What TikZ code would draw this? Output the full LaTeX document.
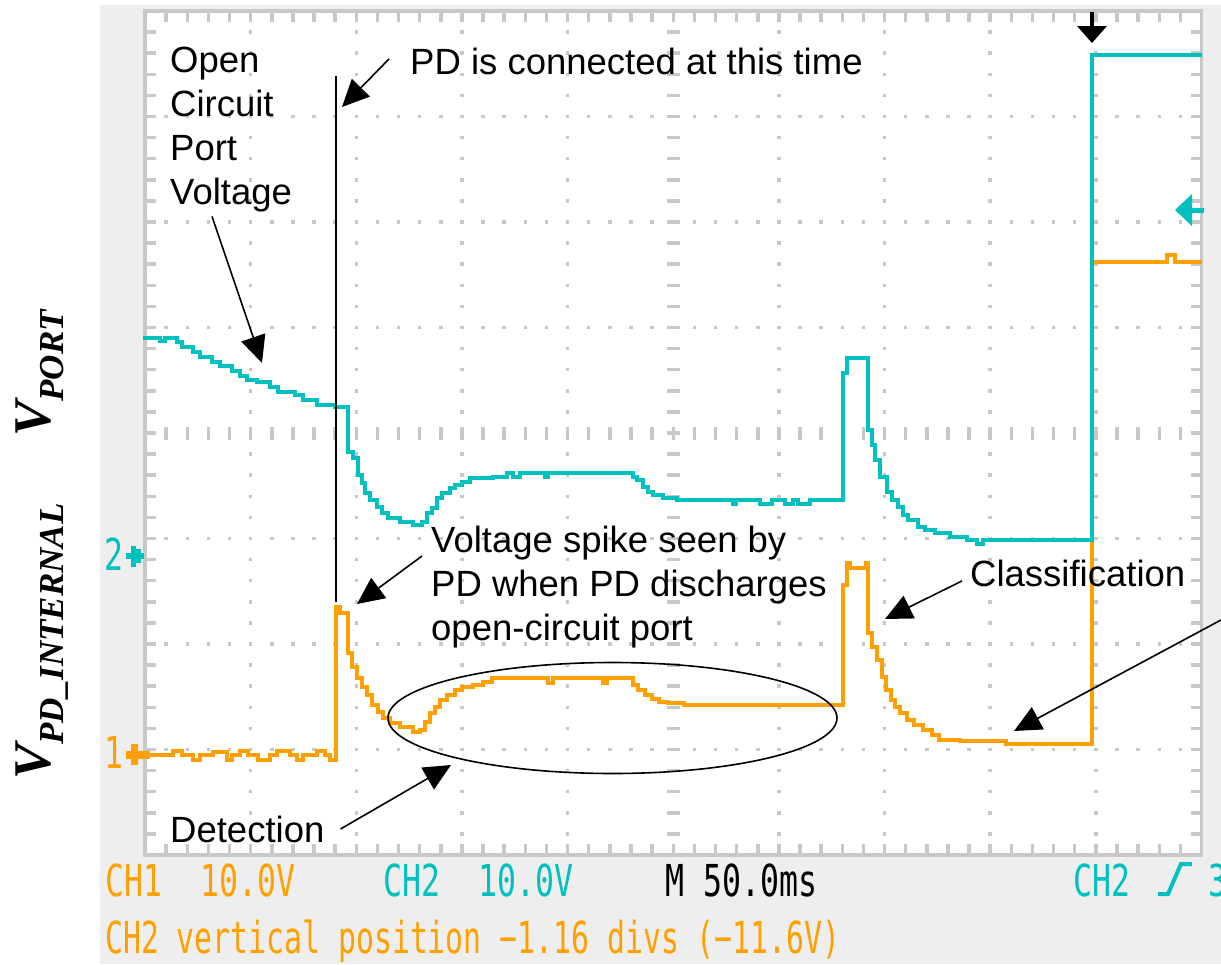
\documentclass[tikz,border=0pt]{standalone}
\usepackage{fontspec}
\setmainfont{Liberation Sans}
\newfontfamily\labelfont{Liberation Serif}
\newfontfamily\scopefont[FakeStretch=0.717]{DejaVu Sans Mono}
\newfontfamily\scopefontn[FakeStretch=0.677]{DejaVu Sans Mono}
\usetikzlibrary{arrows.meta,positioning}
\definecolor{chOne}{HTML}{FFA000}
\definecolor{chTwo}{HTML}{00C0C0}
\definecolor{gridGray}{HTML}{C8C8C8}
\definecolor{scopeBg}{HTML}{EEEEEE}

\begin{document}
\begin{tikzpicture}[
    x=1pt, y=-1pt,
    trace/.style={%
      line width=4.5pt,
    },
    gridv/.style={%
      draw=gridGray,
      line width=3.5pt,
      dash pattern=on 3.5pt off 17.6pt,
      dash phase=1.75pt,
    },
    gridh/.style={%
      draw=gridGray,
      line width=3.5pt,
      dash pattern=on 3.5pt off 17.63pt,
      dash phase=1.75pt,
    },
    anno/.style={%
      inner sep=0pt,
      align=left,
      font=\fontsize{36.5}{44}\selectfont,
    },
    ann/.style={%
      draw,
      line width=1.6pt,
      -{Triangle[length=27pt,width=25pt]},
    },
    vlabel/.style={%
      inner sep=0pt,
      rotate=90,
      anchor=base west,
      font=\labelfont\bfseries\itshape\fontsize{53}{60}\selectfont,
    },
    readout/.style={%
      inner sep=0pt,
      anchor=base west,
      font=\scopefont\fontsize{44}{48}\selectfont,
    },
  ]

    \useasboundingbox (0,0) rectangle (1221,964);
    \fill[white] (0,0) rectangle (1221,964);
    \fill[scopeBg] (100,5) rectangle (1221,964);
    \fill[white] (145,11) rectangle (1201.5,855);

    \foreach \k in {1,2,3,4,6,7,8,9}
      \draw[gridv] (145+\k*105.65,11) -- (145+\k*105.65,855);
    \foreach \j in {1,2,3,5,6,7}
      \draw[gridh] (145,11+\j*105.5) -- (1201.5,11+\j*105.5);
    \draw[gridv, line width=13pt] (673.25,11) -- (673.25,855);
    \draw[gridh, line width=13pt] (145,433) -- (1201.5,433);
    \draw[gridh, line width=9.5pt] (145,17) -- (1201.5,17);
    \draw[gridh, line width=9.5pt] (145,849) -- (1201.5,849);
    \draw[gridv, line width=9.5pt] (151,11) -- (151,855);
    \draw[gridv, line width=9.5pt] (1195.5,11) -- (1195.5,855);
    \draw[gridGray, line width=3.5pt] (145,11) rectangle (1201.5,855);

    \draw[trace, chOne] (143,755) |- (173,755) |- (182,751) |- (193,755) |- (200,760) |- (213,755)
      |- (227,752) |- (232,760) |- (240,755) |- (248,751) |- (258,755) |- (270,760) |- (277,755)
      |- (290,751) |- (297,755) |- (303,760) |- (317,755) |- (325,751) |- (330,755) |- (336,760)
      |- (340,607) |- (348,613) |- (352,653) |- (357,667) |- (362,678) |- (367,687) |- (372,695)
      |- (378,705) |- (383,712) |- (390,718) |- (400,723) |- (413,727) |- (420,732) |- (425,730)
      |- (430,722) |- (435,713) |- (440,707) |- (447,700) |- (455,695) |- (462,690) |- (473,687)
      |- (483,685) |- (492,682) |- (500,678) |- (548,678) |- (553,683) |- (603,678) |- (607,683)
      |- (633,678) |- (638,685) |- (645,690) |- (652,695) |- (659,699) |- (668,702) |- (684,703)
      |- (843,705) |- (847,585) |- (850,563) |- (866,568) |- (868,563) |- (872,633) |- (877,647)
      |- (882,660) |- (886,677) |- (891,690) |- (895,700) |- (900,707) |- (907,713) |- (914,720)
      |- (923,725) |- (932,730) |- (939,735) |- (960,740) |- (1006,741) |- (1092,744)
      |- (1167,262) |- (1175,255) |- (1202,262);

    \draw[trace, chTwo] (143,338) |- (160,338) |- (165,341) |- (177,338) |- (182,342) |- (193,347)
      |- (200,352) |- (212,357) |- (220,362) |- (232,366) |- (240,371) |- (247,376) |- (257,380)
      |- (270,382) |- (278,387) |- (295,392) |- (303,395) |- (317,400) |- (335,405) |- (348,407)
      |- (353,452) |- (358,458) |- (362,475) |- (365,483) |- (370,493) |- (377,500) |- (382,507)
      |- (388,513) |- (400,518) |- (413,522) |- (422,525) |- (427,522) |- (432,513) |- (437,508)
      |- (442,498) |- (450,493) |- (455,488) |- (462,485) |- (470,482) |- (493,478) |- (507,477)
      |- (513,473) |- (520,477) |- (545,473) |- (548,477) |- (633,473) |- (637,477) |- (643,480)
      |- (648,487) |- (653,492) |- (663,495) |- (677,498) |- (733,500) |- (736,504) |- (760,500)
      |- (772,504) |- (785,500) |- (793,504) |- (798,500) |- (810,504) |- (843,500)
      |- (847,373) |- (868,358) |- (872,430) |- (875,445) |- (880,460) |- (887,477) |- (892,492)
      |- (898,500) |- (903,507) |- (908,515) |- (918,520) |- (925,527) |- (935,530) |- (950,533)
      |- (967,537) |- (977,540) |- (983,544) |- (1092,540) |- (1202,55);

    \fill[chTwo] (126,553) rectangle (144,559);
    \fill[chTwo] (131,546) rectangle (136,567);
    \fill[chTwo] (136,549) rectangle (141,563);
    \fill[chOne] (126,751) rectangle (150,759);
    \fill[chOne] (131,744) rectangle (138,765);
    \fill[chTwo] (1175,210) -- (1192,194) -- (1192,226) -- cycle;
    \fill[chTwo] (1185,207.5) rectangle (1204,212.5);
    \fill (1090,12) rectangle (1094,30);
    \fill (1077,26) -- (1107,26) -- (1092,43) -- cycle;

    \node [readout, text=chTwo, font=\scopefont\fontsize{44}{48}\selectfont] (LvlTwo) at (104,570) {2};
    \node [readout, text=chOne, font=\scopefont\fontsize{44}{48}\selectfont] (LvlOne) at (104,768) {1};
    \node [readout, text=chOne] (ChOne) at (105,896) {CH1~~10.0V};
    \node [readout, text=chTwo] (ChTwo) at (383,896) {CH2~~10.0V};
    \node [readout] (Base) at (665,896) {M~50.0ms};
    \node [readout, text=chTwo] (Trig) at (1073,896) {CH2};
    \draw[chTwo, line width=4pt] (1158,894) -- (1168,894) -- (1181,864) -- (1192,864);
    \node [readout, text=chTwo] (TrigLvl) at (1208,896) {3};
    \node [readout, text=chOne, font=\scopefontn\fontsize{44}{48}\selectfont] (VPos) at (105,953)
      {CH2 vertical position −1.16 divs (−11.6V)};

    \node [vlabel] (Vport) at (50,437) {V\raisebox{-13pt}{\fontsize{35}{35}\selectfont PORT}};
    \node [vlabel] (Vpd) at (50,780) {V\raisebox{-13pt}{\fontsize{35}{35}\selectfont PD\_INTERNAL}};

    \node [anno, anchor=north west] (Open) at (170,47) {Open\\Circuit\\Port\\Voltage};
    \node [anno, anchor=base west] (PD) at (410,74) {PD is connected at this time};
    \node [anno, anchor=north west] (Spike) at (431,526) {Voltage spike seen by\\PD when PD discharges\\open-circuit port};
    \node [anno, anchor=base west] (Detect) at (170,842) {Detection};
    \node [anno, anchor=base west] (Class) at (970,586) {Classification};

    \coordinate (conTop) at (336,76);
    \coordinate (conBot) at (336,602);
    \coordinate (ocvTip) at (262,363);
    \coordinate (pdTip) at (342,107);
    \coordinate (spikeTip) at (357,604);
    \coordinate (detTip) at (451,765);
    \coordinate (clsTip) at (885,619);
    \coordinate (pwrTail) at (1221,620);
    \coordinate (pwrTip) at (1014,731);

    \draw[line width=2pt] (conTop) -- (conBot);
    \draw[line width=1.6pt] (612.5,718) ellipse [x radius=224.5, y radius=55.5];

    \draw[ann] ([shift={(42,4)}]Open.south west) -- (ocvTip);
    \draw[ann] ([shift={(-21,-15)}]PD.base west) -- (pdTip);
    \draw[ann] ([shift={(-9,30)}]Spike.north west) -- (spikeTip);
    \draw[ann] ([shift={(16,0)}]Detect.east) -- (detTip);
    \draw[ann] ([shift={(-8,8)}]Class.west) -- (clsTip);
    \draw[ann] (pwrTail) -- (pwrTip);
\end{tikzpicture}
\end{document}
